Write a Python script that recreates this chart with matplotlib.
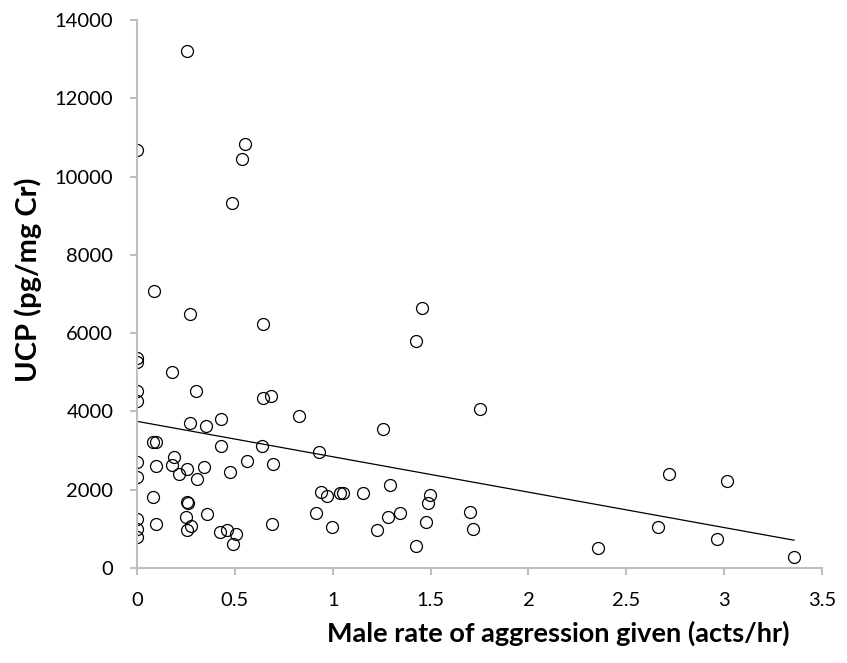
import numpy as np
import matplotlib.pyplot as plt

plt.rcParams['font.family'] = ['Lato', 'DejaVu Sans']

# Male aggression rate (acts/hr) and UCP (pg/mg Cr)
rate = [0.271, 0.645, 0.0, 0.0, 0.18, 0.0, 0.30, 0.0, 0.645, 0.683,
        0.428, 0.83, 0.272, 0.351, 0.083, 0.095, 0.428, 0.639, 0.93, 0.0,
        0.095, 0.189, 0.177, 0.213, 0.257, 0.307, 0.342, 0.475, 0.560, 0.697,
        0.0, 0.083, 0.254, 0.259, 0.94, 0.969, 0.917, 0.356, 0.249, 0.0,
        0.095, 0.274, 0.257, 0.0, 0.0, 0.426, 0.462, 0.506, 0.489, 0.688,
        1.456, 1.427, 1.751, 1.259, 1.293, 1.037, 1.054, 1.156, 1.497, 1.487,
        0.995, 1.281, 1.344, 1.225, 1.479, 1.426, 1.702, 1.719,
        2.720, 2.661, 2.354, 3.017, 2.965, 3.357,
        0.257, 0.0, 0.553, 0.538, 0.487, 0.087]
ucp = [6480, 6230, 5360, 5270, 5000, 4530, 4530, 4275, 4350, 4400,
       3810, 3890, 3710, 3640, 3210, 3210, 3125, 3125, 2965, 2700,
       2615, 2845, 2630, 2400, 2530, 2275, 2570, 2445, 2740, 2655,
       2315, 1805, 1695, 1650, 1934, 1848, 1397, 1380, 1295, 1250,
       1125, 1080, 970, 995, 785, 930, 970, 870, 615, 1125,
       6650, 5790, 4060, 3550, 2120, 1908, 1908, 1908, 1865, 1652,
       1040, 1295, 1397, 970, 1167, 571, 1440, 1005,
       2395, 1048, 502, 2231, 749, 290,
       13218, 10680, 10841, 10458, 9325, 7086]

x_ticks = [0, 0.5, 1, 1.5, 2, 2.5, 3, 3.5]
x_labels = ['0', '0.5', '1', '1.5', '2', '2.5', '3', '3.5']
y_ticks = [0, 2000, 4000, 6000, 8000, 10000, 12000, 14000]

x = np.array(rate)
y = np.array(ucp)

fig = plt.figure(figsize=(8.47, 6.63), dpi=100)
ax = fig.add_axes([0.1617, 0.1433, 0.8088, 0.8265])

ax.plot(x, y, 'o', mfc='none', mec='black', ms=8.6, mew=0.9)

# linear trendline
slope, icpt = np.polyfit(x, y, 1)
xl = np.array([x.min(), x.max()])
ax.plot(xl, icpt + slope * xl, color='black', lw=0.9)

ax.set_xlim(0, 3.5)
ax.set_ylim(0, 14000)
ax.set_xticks(x_ticks)
ax.set_xticklabels(x_labels)
ax.set_yticks(y_ticks)

for s in ['top', 'right']:
    ax.spines[s].set_visible(False)
for s in ['left', 'bottom']:
    ax.spines[s].set_color('#BFBFBF')
    ax.spines[s].set_linewidth(1.5)
ax.tick_params(colors='#BFBFBF', labelcolor='black', labelsize=14.5, length=5, width=1.5)
ax.tick_params(axis='x', pad=12)
ax.tick_params(axis='y', pad=12)

ax.set_xlabel('Male rate of aggression given (acts/hr)', fontsize=19.5,
              fontweight='bold', va='center', ha='center')
ax.xaxis.set_label_coords(0.615, -0.119)
ax.set_ylabel('UCP (pg/mg Cr)', fontsize=21, fontweight='bold',
              va='center', ha='center')
ax.yaxis.set_label_coords(-0.159, 0.526)

fig.savefig('out.png', dpi=100)
